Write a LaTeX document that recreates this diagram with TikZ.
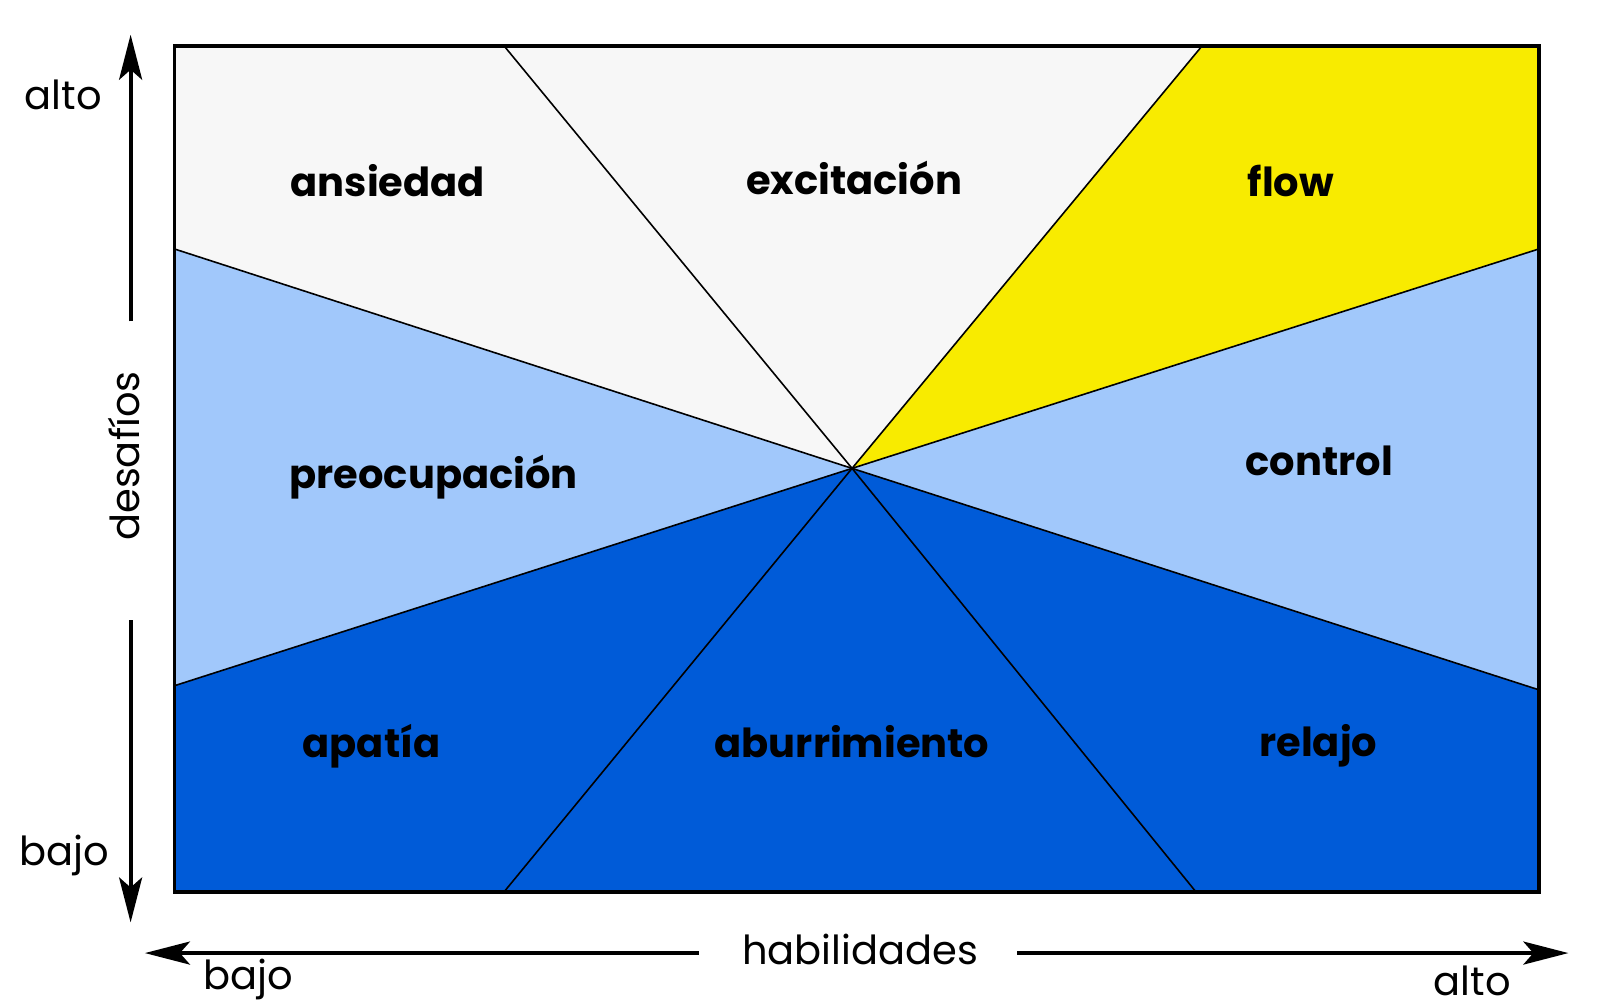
\documentclass[tikz,border=0pt]{standalone}
\usepackage{fontspec}
\setmainfont{Poppins}
\usetikzlibrary{arrows.meta}

\definecolor{blanco}{HTML}{F7F7F7}
\definecolor{celeste}{HTML}{A1C8FB}
\definecolor{azul}{HTML}{005BD8}
\definecolor{amarillo}{HTML}{F8EB00}

\begin{document}
\begin{tikzpicture}[
	>={Stealth[length=45pt, width=23pt, inset=10pt]},
	line width=1.6pt,
	x=1.0204pt,y=-1.0204pt,
	font=\fontsize{40}{40}\selectfont,
	zona/.style={font=\fontsize{40}{40}\selectfont\bfseries},
	eje/.style={->, line width=4pt}
	]
\useasboundingbox (0,0) rectangle (1568,987);

% begin corners and center
\coordinate (tl) at (171,45);
\coordinate (tr) at (1508,45);
\coordinate (br) at (1508,874);
\coordinate (bl) at (171,874);
\coordinate (c)  at (835,459);

\coordinate (t1) at (494,45);
\coordinate (t2) at (1178,45);
\coordinate (l1) at (171,244);
\coordinate (r1) at (1508,244);
\coordinate (l2) at (171,672);
\coordinate (r2) at (1508,676);
\coordinate (b1) at (494,874);
\coordinate (b2) at (1172,874);
% end corners and center

\fill[blanco] (tl) -- (t1) -- (c) -- (l1) -- cycle;
\fill[blanco] (t1) -- (t2) -- (c) -- cycle;
\fill[amarillo] (t2) -- (tr) -- (r1) -- (c) -- cycle;
\fill[celeste] (l1) -- (c) -- (l2) -- cycle;
\fill[celeste] (r1) -- (c) -- (r2) -- cycle;
\fill[azul] (l2) -- (c) -- (b1) -- (bl) -- cycle;
\fill[azul] (b1) -- (c) -- (b2) -- cycle;
\fill[azul] (b2) -- (c) -- (r2) -- (br) -- cycle;

\foreach \p in {t1,t2,l1,r1,l2,r2,b1,b2}
\draw (c) -- (\p);

\draw[line width=3.5pt] (tl) rectangle (br);

\node[zona] (ansiedad)     at (380, 177) {ansiedad};
\node[zona] (excitacion)   at (837, 174) {excitación};
\node[zona] (flow)         at (1265, 177) {flow};
\node[zona] (preocupacion) at (425, 468) {preocupación};
\node[zona] (control)      at (1293, 452) {control};
\node[zona] (apatia)       at (364, 731) {apatía};
\node[zona] (aburrimiento) at (835, 727) {aburrimiento};
\node[zona] (relajo)       at (1292, 731) {relajo};

% axes
\coordinate (dsup_from) at (128, 315);
\coordinate (dsup_to)   at (128, 34);
\coordinate (dinf_from) at (128, 608);
\coordinate (dinf_to)   at (128, 904);
\coordinate (hizq_from) at (685, 934);
\coordinate (hizq_to)   at (142, 934);
\coordinate (hder_from) at (997, 934);
\coordinate (hder_to)   at (1537, 934);

\draw[eje] (dsup_from) -- (dsup_to);
\draw[eje] (dinf_from) -- (dinf_to);
\draw[eje] (hizq_from) -- (hizq_to);
\draw[eje] (hder_from) -- (hder_to);

\node (desafios_alto)  at (62, 93) {alto};
\node (desafios_bajo)  at (63, 838) {bajo};
\node[rotate=90] (desafios) at (122, 447) {desafíos};
\node (habilidades)    at (843, 930) {habilidades};
\node (habil_bajo)     at (243, 960) {bajo};
\node (habil_alto)     at (1443, 961) {alto};

\end{tikzpicture}
\end{document}
